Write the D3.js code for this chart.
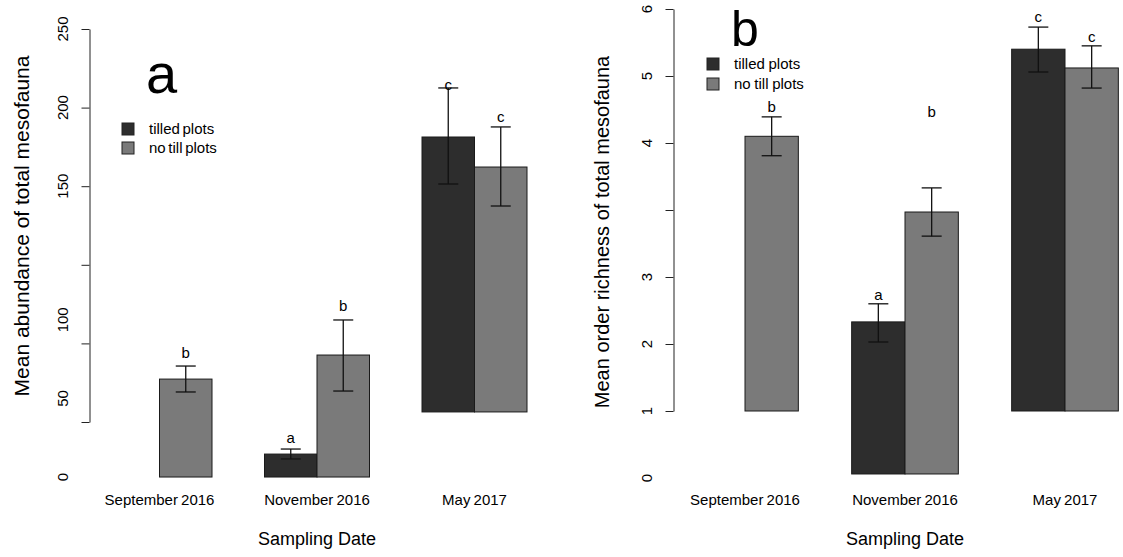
<!DOCTYPE html>
<html><head><meta charset="utf-8">
<script src="https://cdn.jsdelivr.net/npm/d3@7"></script>
<style>body{margin:0;background:#fff}text{font-family:"Liberation Sans",Arial,sans-serif;fill:#000}</style>
</head><body><svg id="c" width="1123" height="557"></svg>
<script>
// ---- shared ----
const categories = ["September 2016", "November 2016", "May 2017"];
const seriesNames = ["tilled plots", "no till plots"];
const seriesColors = ["#2d2d2d", "#7a7a7a"];

// ---- panel a: mean abundance ----
const aTilled      = [null, 14.6, 181.3];
const aNoTill      = [62.3, 77.6, 162.2];
const aTilledLo    = [null, 11.5, 151.4];
const aTilledHi    = [null, 17.8, 212.5];
const aNoTillLo    = [54.1, 54.7, 137.4];
const aNoTillHi    = [70.6, 99.9, 187.7];
const aTilledLet   = [null, "a", "c"];
const aNoTillLet   = ["b", "b", "c"];
const aTilledLetAt = [null, 24.8, 214.4];
const aNoTillLetAt = [78.9, 108.8, 194];
const aBase        = [0, 0, 6.4];
const aPiece       = ["lower", "lower", "upper"];
const aTicks       = [0, 50, 100, 150, 200, 250];
const aTickLabels  = ["0", "50", "100", "150", "200", "250"];
const aLabelPiece  = ["lower", "lower", "lower", "upper", "upper", "upper"];
const aShift = 35;

// ---- panel b: mean order richness ----
const bTilled      = [null, 2.33, 5.40];
const bNoTill      = [4.10, 3.97, 5.12];
const bTilledLo    = [null, 2.03, 5.06];
const bTilledHi    = [null, 2.60, 5.73];
const bNoTillLo    = [3.81, 3.61, 4.82];
const bNoTillHi    = [4.39, 4.33, 5.45];
const bTilledLet   = [null, "a", "c"];
const bNoTillLet   = ["b", "b", "c"];
const bTilledLetAt = [null, 2.73, 5.88];
const bNoTillLetAt = [4.54, 5.46, 5.58];
const bBase        = [0, 0.06, 0];
const bPiece       = ["upper", "lower", "upper"];
const bTicks       = [0, 1, 2, 3, 4, 5, 6];
const bTickLabels  = ["0", "1", "2", "3", "4", "5", "6"];
const bLabelPiece  = ["lower", "lower", "lower", "lower", "upper", "upper", "upper"];
const bShift = 1;

const svg = d3.select("#c");

function panel(cfg) {
  const g = svg.append("g");
  const x = d3.scaleBand().domain(categories).range(cfg.xRange).paddingInner(1/3).paddingOuter(1/6);
  const xs = d3.scaleBand().domain(seriesNames).range([0, x.bandwidth()]);
  const yU = d3.scaleLinear().domain(cfg.domain).range(cfg.yRange);
  const yL = v => yU(v - cfg.shift);
  const yOf = p => p === "upper" ? yU : yL;

  // axis
  const ax = g.append("g").attr("transform", `translate(${cfg.axisX},0)`)
    .call(d3.axisLeft(yU).tickValues(cfg.ticks).tickFormat("").tickSize(8).tickSizeOuter(0));
  ax.select(".domain").attr("stroke", "#222");
  ax.selectAll(".tick line").attr("stroke", "#222");
  // tick labels
  g.selectAll("text.tl").data(cfg.ticks).enter().append("text")
    .attr("class", "tl")
    .attr("transform", (d, i) => `translate(${cfg.labelX},${yOf(cfg.labelPiece[i])(d)}) rotate(-90)`)
    .attr("text-anchor", "middle").attr("font-size", 15).attr("fill", "#222")
    .text((d, i) => cfg.tickLabels[i]);

  // bars
  const rows = [];
  categories.forEach((c, i) => {
    [0, 1].forEach(s => {
      const v = cfg.vals[s][i];
      if (v == null) return;
      rows.push({c, s, v, lo: cfg.lo[s][i], hi: cfg.hi[s][i], let: cfg.lets[s][i], letAt: cfg.letAt[s][i],
        base: cfg.base[i], y: yOf(cfg.piece[i])});
    });
  });
  const bx = d => x(d.c) + xs(seriesNames[d.s]);
  g.selectAll("rect.bar").data(rows).enter().append("rect")
    .attr("x", bx).attr("width", xs.bandwidth())
    .attr("y", d => d.y(d.v)).attr("height", d => d.y(d.base) - d.y(d.v))
    .attr("fill", d => seriesColors[d.s]).attr("stroke", "#1a1a1a").attr("stroke-width", 1);
  const cx = d => bx(d) + xs.bandwidth() / 2;
  const eb = g.selectAll("g.eb").data(rows).enter().append("g").attr("stroke", "#111").attr("stroke-width", 1.3);
  eb.append("line").attr("x1", cx).attr("x2", cx).attr("y1", d => d.y(d.lo)).attr("y2", d => d.y(d.hi));
  eb.append("line").attr("x1", d => cx(d) - 10).attr("x2", d => cx(d) + 10).attr("y1", d => d.y(d.lo)).attr("y2", d => d.y(d.lo));
  eb.append("line").attr("x1", d => cx(d) - 10).attr("x2", d => cx(d) + 10).attr("y1", d => d.y(d.hi)).attr("y2", d => d.y(d.hi));
  g.selectAll("text.let").data(rows).enter().append("text")
    .attr("x", cx).attr("y", d => d.y(d.letAt)).attr("dy", "0.35em")
    .attr("text-anchor", "middle").attr("font-size", 15).text(d => d.let);

  // category labels
  g.selectAll("text.cat").data(categories).enter().append("text")
    .attr("x", d => x(d) + x.bandwidth() / 2).attr("y", cfg.catY)
    .attr("text-anchor", "middle").attr("font-size", 15).attr("word-spacing", "-1px").text(d => d);
  g.append("text").attr("x", (cfg.xRange[0] + cfg.xRange[1]) / 2).attr("y", cfg.xTitleY)
    .attr("text-anchor", "middle").attr("font-size", 18).text("Sampling Date");
  g.append("text").attr("transform", `translate(${cfg.yTitleX},${cfg.yTitleY}) rotate(-90)`)
    .attr("text-anchor", "middle").attr("font-size", cfg.yTitleSize).text(cfg.yTitle);

  // panel letter
  g.append("text").attr("x", cfg.letterX).attr("y", cfg.letterY).attr("font-size", cfg.letterSize).text(cfg.letter);

  // legend
  const lg = g.append("g");
  seriesNames.forEach((s, i) => {
    lg.append("rect").attr("x", cfg.legX).attr("y", cfg.legY + i * cfg.legGap - 6).attr("width", 12).attr("height", 12)
      .attr("fill", seriesColors[i]).attr("stroke", "#222").attr("stroke-width", 1);
    lg.append("text").attr("x", cfg.legX + 27).attr("y", cfg.legY + i * cfg.legGap).attr("dy", "0.35em")
      .attr("font-size", 15).attr("word-spacing", cfg.legWS).text(s);
  });
}

panel({
  xRange: [80.75, 553.25], domain: [0, 250], yRange: [422, 29], shift: aShift,
  axisX: 89.5, labelX: 68, ticks: aTicks, tickLabels: aTickLabels, labelPiece: aLabelPiece,
  vals: [aTilled, aNoTill], lo: [aTilledLo, aNoTillLo], hi: [aTilledHi, aNoTillHi],
  lets: [aTilledLet, aNoTillLet], letAt: [aTilledLetAt, aNoTillLetAt], base: aBase, piece: aPiece,
  catY: 505, xTitleY: 545, yTitle: "Mean abundance of total mesofauna", yTitleX: 29, yTitleY: 226, yTitleSize: 21,
  letter: "a", letterX: 146, letterY: 93, letterSize: 56,
  legX: 122, legY: 129, legGap: 19, legWS: "-1.5px"
});
panel({
  xRange: [665, 1145], domain: [0, 6], yRange: [411, 9], shift: bShift,
  axisX: 673.5, labelX: 652, ticks: bTicks, tickLabels: bTickLabels, labelPiece: bLabelPiece,
  vals: [bTilled, bNoTill], lo: [bTilledLo, bNoTillLo], hi: [bTilledHi, bNoTillHi],
  lets: [bTilledLet, bNoTillLet], letAt: [bTilledLetAt, bNoTillLetAt], base: bBase, piece: bPiece,
  catY: 505, xTitleY: 545, yTitle: "Mean order richness of total mesofauna", yTitleX: 609, yTitleY: 232, yTitleSize: 20,
  letter: "b", letterX: 731, letterY: 46, letterSize: 50,
  legX: 707, legY: 64, legGap: 20, legWS: "-0.5px"
});
</script></body></html>
